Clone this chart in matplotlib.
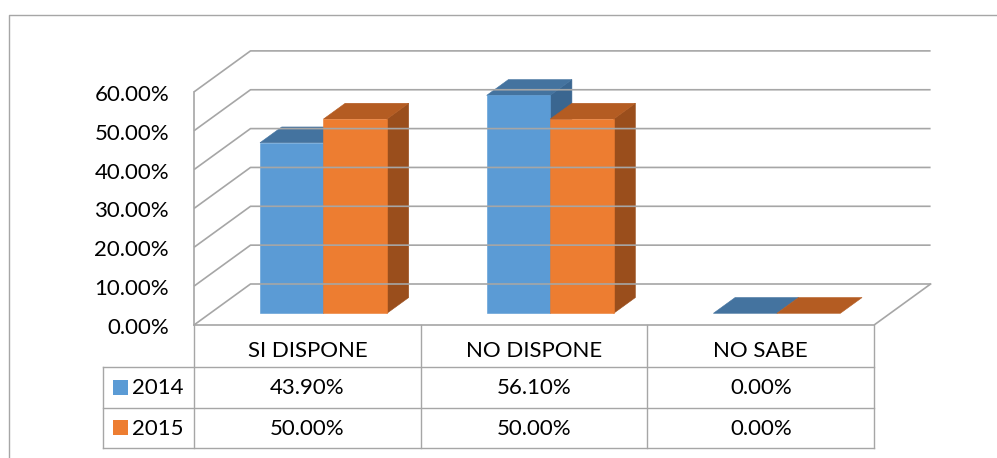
import matplotlib
matplotlib.use("Agg")
import matplotlib.pyplot as plt
from matplotlib.patches import Polygon, Rectangle

plt.rcParams['font.family'] = ['Lato', 'DejaVu Sans']

categories = ["SI DISPONE", "NO DISPONE", "NO SABE"]
years = ["2014", "2015"]
values_2014 = [0.439, 0.561, 0.0]
values_2015 = [0.50, 0.50, 0.0]
y_ticks = [0.0, 0.1, 0.2, 0.3, 0.4, 0.5, 0.6]

front_colors = ["#5B9BD5", "#ED7D31"]
top_colors = ["#44739F", "#B45C22"]
side_colors = ["#3A6690", "#9A4E1C"]
grid_color = "#A6A6A6"
FS = 16

# oblique projection of (category units, value, depth 0..1) onto pixel space
X0, Y0 = 194.0, 325.0
CAT_W = 226.7
PX_PER_UNIT = 388.5
DEPTH_DX, DEPTH_DY = 56.5, 41.0


def proj(x, v, d):
    return (X0 + x * CAT_W + d * DEPTH_DX, Y0 - v * PX_PER_UNIT - d * DEPTH_DY)


fig = plt.figure(figsize=(9.97, 4.58), dpi=100)
ax = fig.add_axes([0, 0, 1, 1])
ax.set_xlim(0, 997)
ax.set_ylim(458, 0)
ax.axis("off")

# chart area border (left and top only are visible)
ax.plot([9, 9, 997], [458, 15, 15], color=grid_color, lw=1.0)

n = len(categories)
vmax = y_ticks[-1]

# walls: gridlines on back wall and left side wall
for t in y_ticks:
    xa, ya = proj(0, t, 0)
    xb, yb = proj(0, t, 1)
    xc, yc = proj(n, t, 1)
    ax.plot([xa, xb, xc], [ya, yb, yc], color=grid_color, lw=1.2, solid_capstyle="butt")
    ax.text(169, ya + 3, f"{t * 100:.2f}%", ha="right", va="center", fontsize=FS, color="#000000")

# left wall front edge
xa, ya = proj(0, 0, 0)
xb, yb = proj(0, vmax, 0)
ax.plot([xa, xb], [ya, yb], color=grid_color, lw=1.2)

# floor front and right edge
xr, yr = proj(n, 0, 0)
xrb, yrb = proj(n, 0, 1)
ax.plot([xa, xr, xrb], [ya, yr, yrb], color=grid_color, lw=1.2)

# 3D bars
d0, d1 = 0.285, 0.67
bar_slots = [(0.22, 0.50), (0.50, 0.78)]
for i in range(n):
    for s, vals in enumerate([values_2014, values_2015]):
        v = vals[i]
        l, r = bar_slots[s]
        x_l, x_r = i + l, i + r
        side = [proj(x_r, 0, d0), proj(x_r, 0, d1), proj(x_r, v, d1), proj(x_r, v, d0)]
        top = [proj(x_l, v, d0), proj(x_r, v, d0), proj(x_r, v, d1), proj(x_l, v, d1)]
        front = [proj(x_l, 0, d0), proj(x_r, 0, d0), proj(x_r, v, d0), proj(x_l, v, d0)]
        if v > 0:
            ax.add_patch(Polygon(side, closed=True, fc=side_colors[s], ec=side_colors[s], lw=0.4))
        ax.add_patch(Polygon(top, closed=True, fc=top_colors[s], ec=top_colors[s], lw=0.4))
        if v > 0:
            ax.add_patch(Polygon(front, closed=True, fc=front_colors[s], ec=front_colors[s], lw=0.4))

# data table
row_lines = [367, 408, 448]
table_left = 103
xs = [proj(i, 0, 0)[0] for i in range(n + 1)]
for x in xs:
    ax.plot([x, x], [Y0, row_lines[-1]], color=grid_color, lw=1.0)
for y in row_lines:
    ax.plot([table_left, xs[-1]], [y, y], color=grid_color, lw=1.0)
ax.plot([table_left, table_left], [row_lines[0], row_lines[-1]], color=grid_color, lw=1.0)

for i, cat in enumerate(categories):
    cx = (xs[i] + xs[i + 1]) / 2
    ax.text(cx, 351, cat, ha="center", va="center", fontsize=FS)
    for s, vals in enumerate([values_2014, values_2015]):
        cy = (row_lines[s] + row_lines[s + 1]) / 2
        ax.text(cx, cy + 1, f"{vals[i] * 100:.2f}%", ha="center", va="center", fontsize=FS)

for s, yr_lbl in enumerate(years):
    cy = (row_lines[s] + row_lines[s + 1]) / 2
    ax.add_patch(Rectangle((113, cy - 8), 15, 15, fc=front_colors[s], ec="none"))
    ax.text(132, cy + 1, yr_lbl, ha="left", va="center", fontsize=FS)

fig.savefig("out.png", dpi=100)
